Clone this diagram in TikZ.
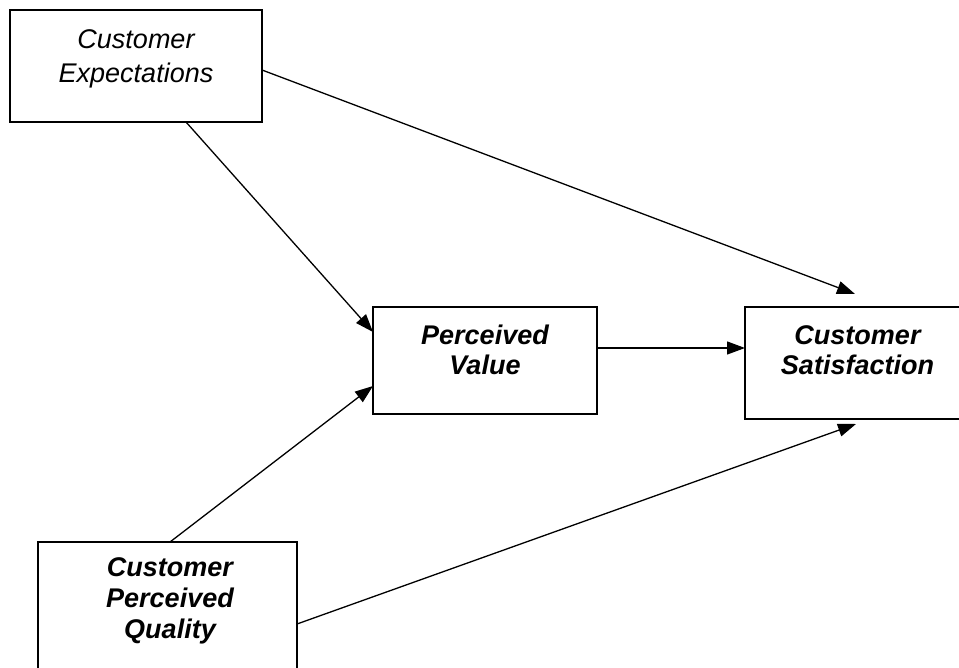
\documentclass[tikz,border=0pt]{standalone}
\usepackage{fontspec}
\setmainfont{Liberation Sans}
\usetikzlibrary{arrows.meta}
\begin{document}
\begin{tikzpicture}[x=1pt,y=-1pt,
  box/.style={draw=black,line width=1.3pt,rectangle,inner sep=0pt,outer sep=0pt},
  lbl/.style={align=center,anchor=base,inner sep=0pt,font=\fontsize{27}{31}\selectfont\bfseries\itshape},
  lblplain/.style={align=center,anchor=base,inner sep=0pt,font=\fontsize{27}{34}\selectfont\itshape},
  conn/.style={line width=1.3pt,-{Triangle[length=18pt,width=13pt]}}]
\useasboundingbox (0,0) rectangle (959,668);
\begin{scope}
\clip (0,0) rectangle (959,668);
\node[box,minimum width=252pt,minimum height=112pt] (ce) at (136,66) {};
\node[box,minimum width=224pt,minimum height=107pt] (pv) at (485,360.5) {};
\node[box,minimum width=225pt,minimum height=112pt] (cs) at (857.5,363) {};
\node[box,minimum width=259pt,minimum height=138pt] (cpq) at (167.5,611) {};
\end{scope}
\node[lblplain] (ceT) at (136,83) {Customer\\Expectations};
\node[lbl] (pvT) at (485,375) {Perceived\\Value};
\node[lbl] (csT) at (857.5,375) {Customer\\Satisfaction};
\node[lbl] (cpqT) at (170,638) {Customer\\Perceived\\Quality};
\draw[conn] ([yshift=-4pt]ce.east) -- ([xshift=-2.5pt,yshift=13pt]cs.north);
\draw[conn] ([xshift=50pt]ce.south) -- ([yshift=28.5pt]pv.west);
\draw[conn] ([xshift=2.5pt]cpq.north) -- ([yshift=-25.5pt]pv.west);
\draw[conn] ([yshift=12.5pt]pv.east) -- ([yshift=15pt]cs.west);
\draw[conn] ([yshift=-13pt]cpq.east) -- ([xshift=-1.5pt,yshift=-5pt]cs.south);
\end{tikzpicture}
\end{document}
